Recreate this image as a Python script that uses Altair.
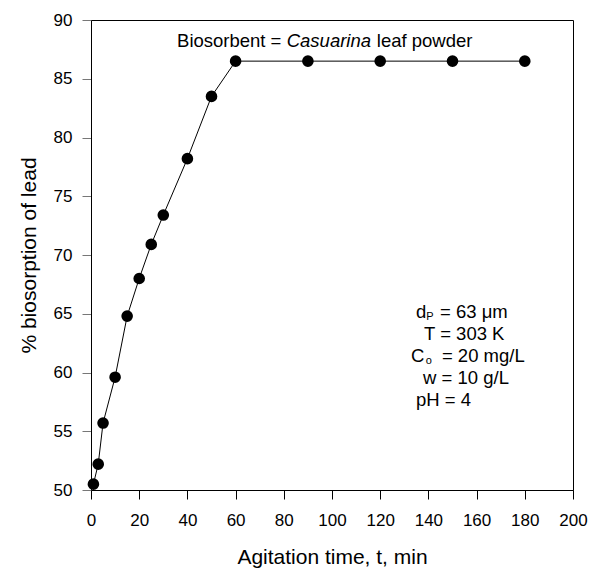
import altair as alt
import pandas as pd

time_min = [1, 3, 5, 10, 15, 20, 25, 30, 40, 50, 60, 90, 120, 150, 180]
biosorption = [50.5, 52.2, 55.7, 59.6, 64.8, 68.0, 70.9, 73.4, 78.2, 83.5, 86.5, 86.5, 86.5, 86.5, 86.5]

df = pd.DataFrame({"t": time_min, "p": biosorption})

# annotation pieces (data coordinates)
title_txt = ["Biosorbent =", "Casuarina", "leaf powder"]
title_x = [35.7, 81.2, 118.6]
title_y = [88.21, 88.21, 88.21]
title_style = ["normal", "italic", "normal"]

main_txt = ["d", "= 63 \u03bcm", "T = 303 K", "C", "= 20 mg/L", "w = 10 g/L", "pH = 4"]
main_x = [134.85, 144.8, 138.2, 132.8, 145.6, 137.8, 134.85]
main_y = [65.15, 65.15, 63.28, 61.40, 61.40, 59.53, 57.66]

sub_txt = ["P", "o"]
sub_x = [139.1, 138.9]
sub_y = [64.75, 61.0]

FONT = "Liberation Sans"

xs = alt.X("t:Q", scale=alt.Scale(domain=[0, 200], nice=False),
           axis=alt.Axis(values=list(range(0, 201, 20)), title="Agitation time, t, min",
                         labelPadding=13, titlePadding=18, tickColor="black"))
ys = alt.Y("p:Q", scale=alt.Scale(domain=[50, 90], nice=False, zero=False),
           axis=alt.Axis(values=list(range(50, 91, 5)), title="% biosorption of lead",
                         labelPadding=10, titlePadding=14, tickColor="#777777"))

line = alt.Chart(df).mark_line(color="black", strokeWidth=1).encode(x=xs, y=ys)
pts = alt.Chart(df).mark_circle(color="black", opacity=1, size=135).encode(x=xs, y=ys)

tdf = pd.DataFrame({"t": title_x, "p": title_y, "s": title_txt, "st": title_style})
t1 = alt.Chart(tdf[tdf.st == "normal"]).mark_text(align="left", baseline="middle", fontSize=18.5,
        font=FONT, color="black").encode(x="t:Q", y="p:Q", text="s:N")
t2 = alt.Chart(tdf[tdf.st == "italic"]).mark_text(align="left", baseline="middle", fontSize=18.5,
        font=FONT, fontStyle="italic", color="black").encode(x="t:Q", y="p:Q", text="s:N")

mdf = pd.DataFrame({"t": main_x, "p": main_y, "s": main_txt})
m = alt.Chart(mdf).mark_text(align="left", baseline="middle", fontSize=18.5,
        font=FONT, color="black").encode(x="t:Q", y="p:Q", text="s:N")
sdf = pd.DataFrame({"t": sub_x, "p": sub_y, "s": sub_txt})
s = alt.Chart(sdf).mark_text(align="left", baseline="middle", fontSize=11,
        font=FONT, color="black").encode(x="t:Q", y="p:Q", text="s:N")

chart = alt.layer(line, pts, t1, t2, m, s).properties(
    width=482, height=470,
    autosize=alt.AutoSizeParams(type="none"),
    padding={"left": 83, "top": 12, "right": 19, "bottom": 81},
    background="white",
).configure_view(stroke="black", strokeWidth=1).configure_axis(
    domainColor="black", domainWidth=1, tickSize=9, tickWidth=1,
    grid=False, labelFont=FONT, labelFontSize=17, labelColor="black", labelFlush=False,
    titleFont=FONT, titleFontSize=21, titleFontWeight="normal", titleColor="black",
)

chart.save("out.html", embed_options={"renderer": "svg", "actions": False})
